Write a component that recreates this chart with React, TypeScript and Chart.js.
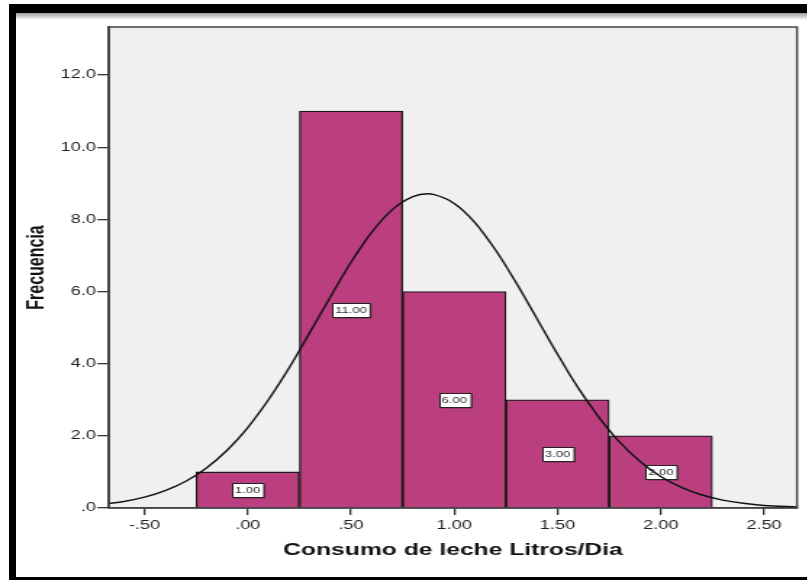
import React, { useEffect, useRef } from 'react';
import { Chart, registerables } from 'chart.js';

Chart.register(...registerables);

// ---- data ----
const BIN_CENTERS = [0, 0.5, 1.0, 1.5, 2.0];
const FREQUENCIES = [1, 11, 6, 3, 2];

const CURVE_X = [-0.68, -0.6, -0.5, -0.4, -0.3, -0.2, -0.1, 0, 0.1, 0.2, 0.3, 0.4, 0.5, 0.6, 0.7, 0.8, 0.87, 0.9, 1.0, 1.1, 1.2, 1.3, 1.4, 1.5, 1.6, 1.7, 1.8, 1.9, 2.0, 2.1, 2.2, 2.3, 2.4, 2.5, 2.66];
const CURVE_Y = [0.12, 0.18, 0.30, 0.48, 0.74, 1.11, 1.60, 2.23, 3.00, 3.88, 4.86, 5.85, 6.81, 7.64, 8.27, 8.63, 8.71, 8.69, 8.44, 7.91, 7.15, 6.24, 5.25, 4.26, 3.33, 2.52, 1.83, 1.29, 0.87, 0.57, 0.36, 0.22, 0.13, 0.07, 0.03];

const X_TICKS = [-0.5, 0, 0.5, 1.0, 1.5, 2.0, 2.5];
const X_TICK_LABELS = ['-.50', '.00', '.50', '1.00', '1.50', '2.00', '2.50'];
const Y_TICKS = [0, 2, 4, 6, 8, 10, 12];
const Y_TICK_LABELS = ['.0', '2.0', '4.0', '6.0', '8.0', '10.0', '12.0'];

const X_MIN = -0.672;
const X_MAX = 2.66;
const Y_MIN = 0;
const Y_MAX = 13.33;

const X_TITLE = 'Consumo de leche Litros/Dia';
const Y_TITLE = 'Frecuencia';

// ---- layout ----
const S = 1.45; // horizontal stretch of the original picture
const W = 557;
const H = 580;
const AREA_LEFT = 109 / S;
const AREA_RIGHT = 797 / S;
const AREA_TOP = 27;
const AREA_BOTTOM = 508;
const PAD_LEFT = 11;
const FAMILY = "'Liberation Sans', Arial, Helvetica, sans-serif";
const BAR_COLOR = '#BB3F7E';

const plotPlugin = {
  id: 'plotFrame',
  beforeDraw(chart: any) {
    const { ctx, chartArea: a } = chart;
    ctx.save();
    ctx.fillStyle = '#F0F0F0';
    ctx.fillRect(a.left, a.top, a.right - a.left, a.bottom - a.top);
    ctx.restore();
  },
  afterDatasetDraw(chart: any, args: any) {
    if (args.index !== 1) return;
    const { ctx } = chart;
    const yS = chart.scales.y;
    ctx.save();
    ctx.font = `9px ${FAMILY}`;
    ctx.textAlign = 'center';
    ctx.textBaseline = 'middle';
    args.meta.data.forEach((el: any, i: number) => {
      const v = FREQUENCIES[i];
      const text = v.toFixed(2);
      const cx = el.x;
      const cy = yS.getPixelForValue(v / 2);
      const w = ctx.measureText(text).width + 4;
      const h = 14;
      const x0 = Math.round(cx - w / 2) + 0.5;
      const y0 = Math.round(cy - h / 2) + 0.5;
      ctx.fillStyle = 'rgba(0,0,0,0.35)';
      ctx.fillRect(x0 + 1, y0 + 1, w, h);
      ctx.fillStyle = '#ffffff';
      ctx.fillRect(x0, y0, w, h);
      ctx.strokeStyle = '#222';
      ctx.lineWidth = 1;
      ctx.strokeRect(x0, y0, w, h);
      ctx.fillStyle = '#333';
      ctx.fillText(text, cx, cy + 0.5);
    });
    ctx.restore();
  },
  afterDraw(chart: any) {
    const { ctx, chartArea: a } = chart;
    ctx.save();
    ctx.strokeStyle = '#444';
    ctx.lineWidth = 1.5;
    ctx.strokeRect(a.left, a.top, a.right - a.left, a.bottom - a.top);
    ctx.restore();
  },
};

export default function App() {
  const ref = useRef<HTMLCanvasElement | null>(null);

  useEffect(() => {
    if (!ref.current) return;
    const chart = new Chart(ref.current, {
      type: 'bar',
      data: {
        datasets: [
          {
            type: 'line',
            label: 'Normal',
            data: CURVE_X.map((x, i) => ({ x, y: CURVE_Y[i] })),
            borderColor: '#111',
            borderWidth: 1.4,
            pointRadius: 0,
            cubicInterpolationMode: 'monotone',
            fill: false,
            order: 0,
          } as any,
          {
            type: 'bar',
            label: 'Frecuencia',
            data: BIN_CENTERS.map((x, i) => ({ x, y: FREQUENCIES[i] })),
            backgroundColor: BAR_COLOR,
            borderColor: '#1a1a1a',
            borderWidth: 1.3,
            barPercentage: 1,
            categoryPercentage: 1,
            order: 1,
          } as any,
        ],
      },
      options: {
        responsive: false,
        animation: false,
        layout: {
          padding: { left: PAD_LEFT, top: AREA_TOP, right: W - AREA_RIGHT, bottom: 0 },
        },
        plugins: {
          legend: { display: false },
          tooltip: { enabled: false },
        },
        scales: {
          x: {
            type: 'linear',
            min: X_MIN,
            max: X_MAX,
            offset: false,
            bounds: 'data',
            grid: {
              display: true,
              drawOnChartArea: false,
              drawTicks: true,
              tickLength: 7,
              color: '#333',
              lineWidth: 1.3,
              offset: false,
            },
            border: { display: true, color: '#444', width: 1.5 },
            ticks: {
              autoSkip: false,
              maxRotation: 0,
              padding: 3,
              color: '#1e1e1e',
              font: { family: FAMILY, size: 12.5 },
              callback: (_v: any, i: number) => X_TICK_LABELS[i],
            },
            afterBuildTicks: (s: any) => {
              s.ticks = X_TICKS.map((value) => ({ value }));
            },
            afterFit: (s: any) => {
              s.height = H - AREA_BOTTOM;
            },
            title: {
              display: true,
              text: X_TITLE,
              color: '#111',
              font: { family: FAMILY, size: 17, weight: 'bold' },
              padding: { top: 0, bottom: 19 },
            },
          } as any,
          y: {
            type: 'linear',
            min: Y_MIN,
            max: Y_MAX,
            bounds: 'data',
            grid: {
              display: true,
              drawOnChartArea: false,
              drawTicks: true,
              tickLength: 8,
              color: '#333',
              lineWidth: 1.3,
            },
            border: { display: true, color: '#444', width: 1.5 },
            ticks: {
              autoSkip: false,
              padding: 1,
              color: '#1e1e1e',
              font: { family: FAMILY, size: 12.5 },
              callback: (_v: any, i: number) => Y_TICK_LABELS[i],
            },
            afterBuildTicks: (s: any) => {
              s.ticks = Y_TICKS.map((value) => ({ value }));
            },
            afterFit: (s: any) => {
              s.width = AREA_LEFT - PAD_LEFT;
            },
            title: {
              display: true,
              text: Y_TITLE,
              color: '#111',
              font: { family: FAMILY, size: 16, weight: 'bold' },
              padding: { top: 5, bottom: 0 },
            },
          } as any,
        },
      },
      plugins: [plotPlugin],
    });
    return () => chart.destroy();
  }, []);

  return (
    <div
      style={{
        position: 'fixed',
        left: 0,
        top: 0,
        width: 807,
        height: 580,
        background: '#fff',
        overflow: 'hidden',
      }}
    >
      <div
        style={{
          position: 'absolute',
          left: 0,
          top: 0,
          width: W,
          height: H,
          transform: `scaleX(${S})`,
          transformOrigin: '0 0',
        }}
      >
        <canvas ref={ref} width={W} height={H} style={{ display: 'block' }} />
      </div>
      {/* screenshot frame */}
      <div style={{ position: 'absolute', left: 16, top: 13, width: 791, height: 7, background: 'linear-gradient(#9a9a9a, #ffffff)' }} />
      <div style={{ position: 'absolute', left: 9, top: 4, width: 798, height: 9, background: '#000' }} />
      <div style={{ position: 'absolute', left: 9, top: 4, width: 7, height: 576, background: '#000' }} />
      <div style={{ position: 'absolute', left: 9, top: 577, width: 798, height: 3, background: '#000' }} />
    </div>
  );
}
